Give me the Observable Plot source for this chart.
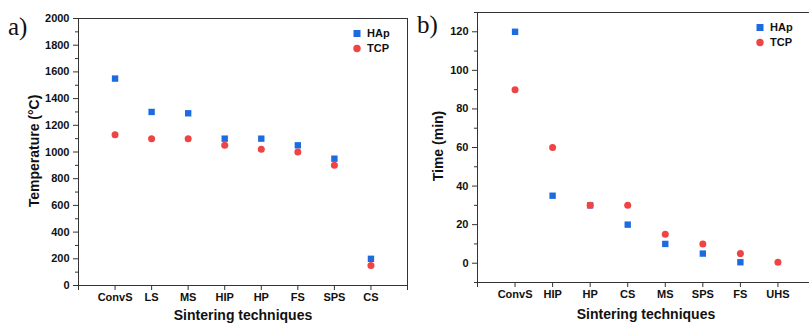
<!DOCTYPE html>
<html>
<head>
<meta charset="utf-8">
<script src="https://cdn.jsdelivr.net/npm/d3@7"></script>
<script src="https://cdn.jsdelivr.net/npm/@observablehq/plot@0.6"></script>
<style>
  html, body { margin: 0; padding: 0; background: #fff; }
  #root { position: relative; width: 809px; height: 324px; overflow: hidden; background: #fff;
          font-family: "Liberation Sans", Arial, sans-serif; }
  .panel { position: absolute; top: 0; }
  .panel svg { max-width: none !important; }
  .lbl { position: absolute; font-weight: bold; font-size: 14px; color: #111; white-space: nowrap; line-height: 16px; }
  .letter { position: absolute; font-family: "Liberation Serif", "DejaVu Serif", serif; font-size: 25px; color: #111; line-height: 1; }
  .leg { position: absolute; font-weight: bold; font-size: 11px; color: #111; }
  .leg div { position: relative; height: 15px; line-height: 15px; }
  .leg svg { position: absolute; left: 0; top: 0; }
  .leg span { position: absolute; left: 16px; top: 0; }
</style>
</head>
<body>
<div id="root"></div>
<script>
// ---------- data ----------
const tempCats = ["ConvS", "LS", "MS", "HIP", "HP", "FS", "SPS", "CS"];
const tempHAp  = [1550, 1300, 1290, 1100, 1100, 1050, 950, 200];
const tempTCP  = [1130, 1100, 1100, 1050, 1020, 1000, 900, 150];
const tempTicks = [0, 200, 400, 600, 800, 1000, 1200, 1400, 1600, 1800, 2000];
const tempMinor = [100, 300, 500, 700, 900, 1100, 1300, 1500, 1700, 1900];

const timeCats = ["ConvS", "HIP", "HP", "CS", "MS", "SPS", "FS", "UHS"];
const timeHAp  = [120, 35, 30, 20, 10, 5, 0.5, null];
const timeTCP  = [90, 60, 30, 30, 15, 10, 5, 0.5];
const timeTicks = [0, 20, 40, 60, 80, 100, 120];
const timeMinor = [-10, 10, 30, 50, 70, 90, 110, 130];

const BLUE = "#1c6be0";
const RED = "#f04343";
const AXIS = "#333";

function rows(cats, vals) {
  return cats.map((c, i) => ({pos: i + 1, cat: c, v: vals[i]})).filter(d => d.v != null);
}

function panel({cats, hap, tcp, yDomain, ticks, minor, width, margins}) {
  const pos = d3.range(0, 10);
  return Plot.plot({
    width, height: 324,
    marginTop: margins[0], marginRight: margins[1], marginBottom: margins[2], marginLeft: margins[3],
    style: {fontFamily: "'Liberation Sans', Arial, sans-serif", fontSize: "11px", fontWeight: "bold", color: "#111", background: "transparent"},
    x: {domain: [0, 9]},
    y: {domain: yDomain},
    marks: [
      Plot.frame({stroke: AXIS, strokeWidth: 1}),
      Plot.axisY({ticks: minor, tickSize: 3, tickFormat: () => "", stroke: AXIS, label: null}),
      Plot.axisY({ticks, tickSize: 5, tickPadding: 4, stroke: AXIS, fill: "#111", label: null,
                  tickFormat: d => String(d)}),
      Plot.axisX({ticks: pos, tickSize: 5, tickPadding: 3, stroke: AXIS, fill: "#111",
                  tickFormat: i => cats[i - 1] ?? "", label: null}),
      Plot.dot(rows(cats, hap), {x: "pos", y: "v", symbol: "square", r: 3.6, fill: BLUE, stroke: null}),
      Plot.dot(rows(cats, tcp), {x: "pos", y: "v", symbol: "circle", r: 3.5, fill: RED, stroke: null})
    ]
  });
}

const root = document.getElementById("root");

function place(el, left) {
  const d = document.createElement("div");
  d.className = "panel";
  d.style.left = left + "px";
  d.appendChild(el);
  root.appendChild(d);
}

place(panel({cats: tempCats, hap: tempHAp, tcp: tempTCP, yDomain: [0, 2000],
             ticks: tempTicks, minor: tempMinor, width: 410, margins: [18, 3, 39, 78]}), 0);
place(panel({cats: timeCats, hap: timeHAp, tcp: timeTCP, yDomain: [-10, 130],
             ticks: timeTicks, minor: timeMinor, width: 405, margins: [12, 0, 42, 67]}), 410);

function addHTML(html) { root.insertAdjacentHTML("beforeend", html); }

// panel letters
addHTML(`<div class="letter" style="left:8px;top:14px;">a)</div>`);
addHTML(`<div class="letter" style="left:417px;top:12px;">b)</div>`);

// axis titles
addHTML(`<div class="lbl" style="left:243px;top:307px;transform:translateX(-50%);">Sintering techniques</div>`);
addHTML(`<div class="lbl" style="left:646px;top:306px;transform:translateX(-50%);">Sintering techniques</div>`);
addHTML(`<div class="lbl" style="left:34px;top:151px;transform:translate(-50%,-50%) rotate(-90deg);">Temperature (°C)</div>`);
addHTML(`<div class="lbl" style="left:438px;top:146px;transform:translate(-50%,-50%) rotate(-90deg);">Time (min)</div>`);

// legends
function legend(left, top) {
  addHTML(`<div class="leg" style="left:${left}px;top:${top}px;">
    <div><svg width="12" height="15"><rect x="2.5" y="4" width="7" height="7" fill="${BLUE}"/></svg><span>HAp</span></div>
    <div><svg width="12" height="15"><circle cx="6" cy="7.5" r="3.7" fill="${RED}"/></svg><span>TCP</span></div>
  </div>`);
}
legend(351, 26);
legend(754, 20);
</script>
</body>
</html>
